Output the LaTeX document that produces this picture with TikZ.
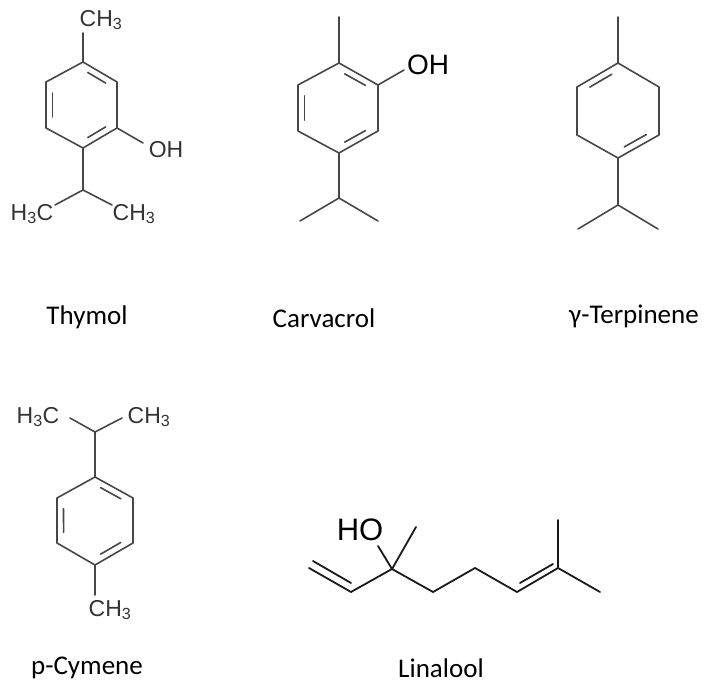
\documentclass[tikz,border=0pt]{standalone}
\usepackage{fontspec}
\setmainfont{Liberation Sans}
\newfontfamily\labfont{Carlito}
\usetikzlibrary{calc}
\tikzset{bond/.style={line width=1.6pt,draw=black!72,line cap=round,line join=round},
 atom/.style={inner sep=0pt,text=black!80,font=\fontsize{23}{23}\selectfont},
 molname/.style={inner sep=0pt,font=\labfont\fontsize{27}{27}\selectfont}}
\newcommand{\dbl}[3]{\draw[bond] ($($(#1)!0.18!(#2)$)!7pt!(#3)$) -- ($($(#2)!0.18!(#1)$)!7pt!(#3)$);}
\begin{document}
\begin{tikzpicture}[x=1pt,y=-1pt]
\useasboundingbox (0,0) rectangle (713,700);
% Thymol
\coordinate (t1) at (83,62);\coordinate (t2) at (117,82);\coordinate (t3) at (117,128);
\coordinate (t4) at (83,148);\coordinate (t5) at (46,128);\coordinate (t6) at (46,82);
\coordinate (tc) at (81.5,105);
\coordinate (tm) at (83,33);\coordinate (to) at (143,143);
\coordinate (ti) at (83,190);\coordinate (til) at (55,205);\coordinate (tir) at (112,205);
\draw[bond] (t1)--(t2)--(t3)--(t4)--(t5)--(t6)--cycle;
\dbl{t1}{t2}{tc}\dbl{t5}{t6}{tc}\dbl{t3}{t4}{tc}
\draw[bond] (t1)--(tm) (t3)--(to) (t4)--(ti) (til)--(ti)--(tir);
\node[atom] (tmT) at (101,20) {CH\textsubscript{3}};
\node[atom] (toT) at (166,150) {OH};
\node[atom] (tlT) at (32,214) {H\textsubscript{3}C};
\node[atom] (trT) at (134,214) {CH\textsubscript{3}};
\node[molname] (thy) at (87,317) {Thymol};
% Carvacrol
\coordinate (c1) at (339,63);\coordinate (c2) at (378,85);\coordinate (c3) at (378,131);
\coordinate (c4) at (339,153);\coordinate (c5) at (298,131);\coordinate (c6) at (298,85);
\coordinate (cc) at (338,108);
\coordinate (cm) at (339,17);\coordinate (co) at (404,70);
\coordinate (ci) at (339,198);\coordinate (cil) at (300,221);\coordinate (cir) at (378,221);
\draw[bond] (c1)--(c2)--(c3)--(c4)--(c5)--(c6)--cycle;
\dbl{c1}{c2}{cc}\dbl{c5}{c6}{cc}\dbl{c3}{c4}{cc}
\draw[bond] (c1)--(cm) (c2)--(co) (c4)--(ci) (cil)--(ci)--(cir);
\node[atom,font=\fontsize{28}{28}\selectfont,text=black] (coT) at (428,65) {OH};
\node[molname] (car) at (324,318) {Carvacrol};
% gamma-Terpinene
\coordinate (g1) at (618,63);\coordinate (g2) at (659,87);\coordinate (g3) at (659,135);
\coordinate (g4) at (618,158);\coordinate (g5) at (577,135);\coordinate (g6) at (577,87);
\coordinate (gc) at (618,110);
\coordinate (gm) at (618,17);
\coordinate (gi) at (618,205);\coordinate (gil) at (578,229);\coordinate (gir) at (658,229);
\draw[bond] (g1)--(g2)--(g3)--(g4)--(g5)--(g6)--cycle;
\dbl{g6}{g1}{gc}\dbl{g3}{g4}{gc}
\draw[bond] (g1)--(gm) (g4)--(gi) (gil)--(gi)--(gir);
\node[molname] (ter) at (634,316) {γ-Terpinene};
% p-Cymene
\coordinate (p1) at (95,477);\coordinate (p2) at (133,498);\coordinate (p3) at (133,543);
\coordinate (p4) at (95,565);\coordinate (p5) at (57,543);\coordinate (p6) at (57,498);
\coordinate (pc) at (95,521);
\coordinate (pi) at (95,432);\coordinate (pil) at (70,418);\coordinate (pir) at (122,418);
\coordinate (pm) at (95,595);
\draw[bond] (p1)--(p2)--(p3)--(p4)--(p5)--(p6)--cycle;
\dbl{p1}{p2}{pc}\dbl{p5}{p6}{pc}\dbl{p3}{p4}{pc}
\draw[bond] (p1)--(pi) (pil)--(pi)--(pir) (p4)--(pm);
\node[atom] (plT) at (38,417) {H\textsubscript{3}C};
\node[atom] (prT) at (149,417) {CH\textsubscript{3}};
\node[atom] (pmT) at (110,610) {CH\textsubscript{3}};
\node[molname] (cym) at (87,668) {p-Cymene};
% Linalool
\coordinate (l1) at (309,568);\coordinate (l2) at (351,592);\coordinate (l3) at (392,569);
\coordinate (lm) at (416,527);\coordinate (lo) at (378,546);
\coordinate (l4) at (433,592);\coordinate (l5) at (475,568);\coordinate (l6) at (517,592);
\coordinate (l7) at (558,568);\coordinate (l8) at (558,520);\coordinate (l9) at (600,592);
\draw[bond,line width=1.8pt,draw=black!90] (l1)--(l2)--(l3)--(l4)--(l5)--(l6)--(l7)--(l9) (l7)--(l8) (l3)--(lm) (l3)--(lo);
\draw[bond,line width=1.8pt,draw=black!90] (313,561)--(351,583) (520,583)--(553,564);
\node[atom,font=\fontsize{31}{31}\selectfont,text=black] (loT) at (360,530) {HO};
\node[molname] (lin) at (441,668) {Linalool};
\end{tikzpicture}
\end{document}
